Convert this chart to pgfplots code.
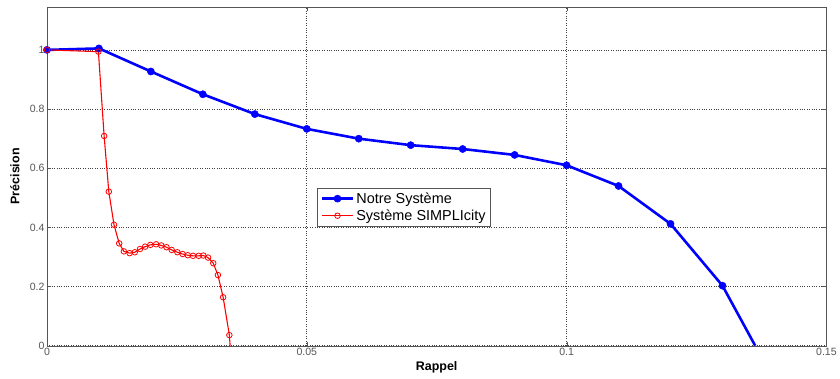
\documentclass[border=0pt]{standalone}
\usepackage{fontspec}
\setmainfont{Liberation Sans}
\usepackage{pgfplots}
\pgfplotsset{compat=1.18}
\definecolor{mblue}{RGB}{0,0,255}
\definecolor{mred}{RGB}{255,0,0}
\definecolor{tickgray}{RGB}{85,85,85}
\begin{document}
\begin{tikzpicture}
\begin{axis}[
  scale only axis,
  width=780bp, height=339bp,
  xmin=0, xmax=0.15, ymin=0, ymax=1.145,
  xtick={0,0.05,0.1,0.15}, xticklabels={0,0.05,0.1,0.15},
  ytick={0,0.2,0.4,0.6,0.8,1}, yticklabels={0,0.2,0.4,0.6,0.8,1},
  /pgf/number format/assume math mode=true,
  tick label style={font=\fontsize{10.6}{12}\selectfont, text=tickgray},
  xticklabel style={yshift=1bp},
  yticklabel style={xshift=1bp},
  tick align=inside, major tick length=4bp,
  tick style={color=tickgray},
  axis line style={color=tickgray},
  grid=major,
  major grid style={dotted, color=black!75, line width=0.6pt},
  xlabel={\textbf{Rappel}}, ylabel={\textbf{Précision}},
  label style={font=\fontsize{12.5}{14}\selectfont},
  xlabel style={at={(rel axis cs:0.5,0)}, anchor=center, yshift=-22bp},
  ylabel style={at={(rel axis cs:0,0.5)}, anchor=center, rotate=0, yshift=32bp},
  legend style={at={(rel axis cs:0.347,0.466)}, anchor=north west,
    font=\fontsize{14.5}{16}\selectfont, draw=tickgray, inner xsep=3pt, inner ysep=2.5pt,
    row sep=1pt, legend cell align=left},
  legend image code/.code={\draw[mark repeat=2,mark phase=2] plot coordinates {(0cm,0cm) (0.55cm,0cm) (1.1cm,0cm)};},
]
\addplot[color=mblue, line width=2.6pt, mark=*, mark size=3.6pt, mark options={solid, fill=mblue, line width=0.5pt}]
coordinates {
(0,1.0) (0.01,1.005) (0.02,0.927) (0.03,0.85) (0.04,0.783) (0.05,0.733)
(0.06,0.700) (0.07,0.678) (0.08,0.665) (0.09,0.645) (0.10,0.610)
(0.11,0.540) (0.12,0.412) (0.13,0.203)
};
\addlegendentry{Notre Système}
\addplot[color=mred, line width=1.1pt, mark=o, mark size=2.8pt, mark options={solid, line width=0.8pt}]
coordinates {
(0,1.0) (0.0099,0.994) (0.0110,0.709) (0.0119,0.521) (0.0129,0.409)
(0.0139,0.346) (0.0148,0.319) (0.0159,0.313) (0.0169,0.316) (0.0179,0.327)
(0.0189,0.335) (0.0199,0.341) (0.0210,0.343) (0.0220,0.339) (0.0230,0.333)
(0.0240,0.324) (0.0251,0.316) (0.0261,0.310) (0.0271,0.306) (0.0281,0.304)
(0.0292,0.304) (0.0301,0.305) (0.0310,0.298) (0.0320,0.279) (0.0329,0.239)
(0.0339,0.164) (0.0351,0.036)
};
\addlegendentry{Système SIMPLIcity}
\addplot[color=mred, line width=1.1pt, forget plot] coordinates {(0.0351,0.036) (0.03525,0.0)};
\addplot[color=mblue, line width=2.6pt, forget plot] coordinates {(0.13,0.203) (0.1363,0.0)};
\end{axis}
\path ([xshift=-47bp,yshift=-33bp]current axis.south west) rectangle ([xshift=13bp,yshift=7bp]current axis.north east);
\end{tikzpicture}
\end{document}
